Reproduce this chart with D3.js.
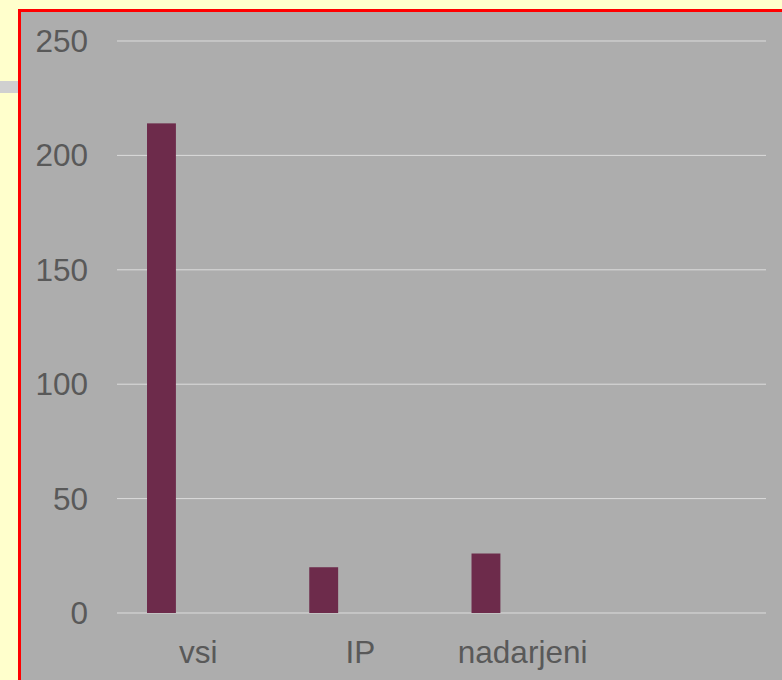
<!DOCTYPE html>
<html>
<head>
<meta charset="utf-8">
<script src="https://cdn.jsdelivr.net/npm/d3@7"></script>
<style>
  body { margin: 0; background: #ffffcc; }
  svg { display: block; }
  .tick-label { font-family: "Liberation Sans", Arial, sans-serif; font-size: 31.5px; fill: #595959; }
</style>
</head>
<body>
<script>
const categories = ["vsi", "IP", "nadarjeni", ""];
const values = [214, 20, 26, null];
const yTicks = [0, 50, 100, 150, 200, 250];

const width = 782, height = 680;
const plot = { left: 117, right: 766, top: 41, bottom: 613 };

const svg = d3.select("body").append("svg")
    .attr("width", width)
    .attr("height", height);

// grey strip at the left edge, behind the frame
svg.append("rect")
    .attr("x", 0).attr("y", 81)
    .attr("width", 20).attr("height", 12)
    .attr("fill", "#d0d0d0");

// chart area with red frame (top + left only visible)
svg.append("rect")
    .attr("x", 18).attr("y", 9)
    .attr("width", width).attr("height", height)
    .attr("fill", "#adadad");
svg.append("path")
    .attr("d", "M19.5," + height + "V10.5H" + width)
    .attr("fill", "none")
    .attr("stroke", "#ff0000")
    .attr("stroke-width", 3);

var x = d3.scaleBand().domain(categories).range([plot.left, plot.right]).padding(0);
var y = d3.scaleLinear().domain([0, 250]).range([plot.bottom, plot.top]);

// gridlines
svg.append("g").selectAll("line")
    .data(yTicks)
    .enter().append("line")
    .attr("x1", plot.left).attr("x2", plot.right)
    .attr("y1", d => y(d)).attr("y2", d => y(d))
    .attr("stroke", "#dcdcdc")
    .attr("stroke-width", 1);

// y labels
svg.append("g").selectAll("text")
    .data(yTicks)
    .enter().append("text")
    .attr("class", "tick-label")
    .attr("x", 88)
    .attr("y", d => y(d) + 11)
    .attr("text-anchor", "end")
    .text(d => d);

// bars sit in the left part of each band
const bw = x.bandwidth();
svg.append("g").selectAll("rect")
    .data(categories.map((c, i) => ({ c: c, v: values[i] })).filter(d => d.v != null))
    .enter().append("rect")
    .attr("x", d => x(d.c) + bw * 0.185)
    .attr("width", bw * 0.178)
    .attr("y", d => y(d.v))
    .attr("height", d => y(0) - y(d.v))
    .attr("fill", "#6d2b4b");

// category labels
svg.append("g").selectAll("text")
    .data(categories)
    .enter().append("text")
    .attr("class", "tick-label")
    .attr("x", d => x(d) + bw / 2)
    .attr("y", 663)
    .attr("text-anchor", "middle")
    .text(d => d);
</script>
</body>
</html>
